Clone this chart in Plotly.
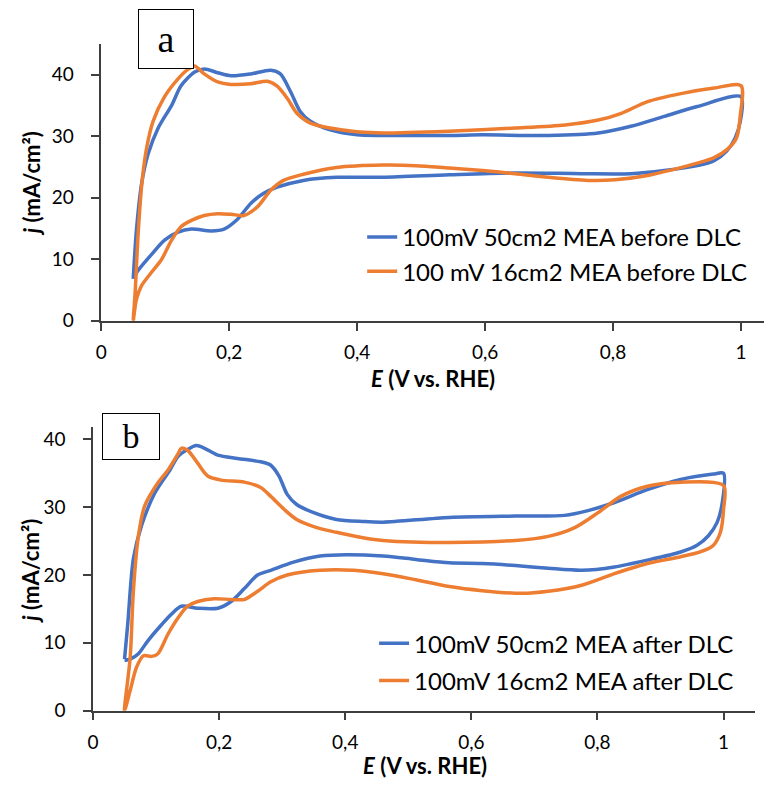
import plotly.graph_objects as go

W, H = 764, 787

# ---- Panel a: before DLC (E in V vs. RHE, j in mA/cm²) ----
a50_E = [0.05, 0.055, 0.063, 0.073, 0.089, 0.11, 0.125, 0.146, 0.161, 0.182, 0.203, 0.234, 0.265, 0.28,
         0.296, 0.311, 0.327, 0.358, 0.4, 0.44, 0.544, 0.596, 0.699, 0.777, 0.828, 0.88, 0.932, 1.0,
         0.999, 0.991, 0.978, 0.958, 0.932, 0.88, 0.828, 0.751, 0.647, 0.544, 0.44, 0.368, 0.316, 0.275,
         0.254, 0.234, 0.213, 0.192, 0.172, 0.141, 0.12, 0.099, 0.078, 0.057, 0.05]
a50_j = [6.8, 14.7, 22.2, 27.0, 31.3, 35.0, 38.2, 40.4, 40.9, 40.3, 39.8, 40.1, 40.7, 40.1,
         37.2, 34.0, 32.4, 31.0, 30.2, 30.1, 30.1, 30.2, 30.1, 30.5, 31.6, 33.2, 34.8, 36.4,
         32.4, 29.7, 27.6, 26.0, 25.2, 24.4, 23.9, 23.9, 24.0, 23.7, 23.3, 23.3, 22.8, 21.7,
         20.7, 19.1, 16.5, 14.9, 14.6, 14.9, 14.4, 13.1, 10.7, 8.1, 7.0]

a16_E = [0.05, 0.0527, 0.058, 0.064, 0.071, 0.081, 0.099, 0.12, 0.135, 0.146, 0.161, 0.182, 0.203, 0.234,
         0.26, 0.275, 0.291, 0.306, 0.327, 0.358, 0.399, 0.44, 0.544, 0.647, 0.725, 0.777, 0.813, 0.854,
         0.906, 0.958, 1.0,
         0.999, 0.993, 0.978, 0.958, 0.932, 0.895, 0.854, 0.803, 0.761, 0.699, 0.647, 0.596, 0.544,
         0.492, 0.44, 0.368, 0.316, 0.285, 0.265, 0.244, 0.223, 0.203, 0.182, 0.161, 0.141, 0.125,
         0.11, 0.094, 0.078, 0.063, 0.055, 0.05]
a16_j = [0.0, 4.05, 14.7, 22.8, 28.1, 32.4, 36.4, 39.3, 40.8, 41.4, 40.1, 38.8, 38.4, 38.5,
         38.9, 38.1, 36.1, 33.7, 32.1, 31.3, 30.7, 30.5, 30.8, 31.3, 31.8, 32.6, 33.7, 35.6,
         36.9, 37.8, 38.2,
         33.4, 29.7, 27.8, 26.5, 25.6, 24.6, 23.6, 22.9, 22.8, 23.3, 23.9, 24.4, 24.8,
         25.2, 25.3, 24.9, 23.8, 22.8, 21.2, 18.5, 17.1, 17.3, 17.4, 17.1, 16.3, 15.3,
         13.1, 9.9, 7.8, 5.7, 3.5, 0.0]

# ---- Panel b: after DLC ----
b50_E = [0.05, 0.055, 0.064, 0.077, 0.098, 0.122, 0.135, 0.148, 0.164, 0.177, 0.198, 0.229, 0.266, 0.282,
         0.295, 0.308, 0.323, 0.35, 0.386, 0.428, 0.46, 0.565, 0.67, 0.748, 0.785, 0.827, 0.879, 0.932,
         0.984, 1.0,
         0.998, 0.99, 0.976, 0.958, 0.932, 0.879, 0.827, 0.775, 0.722, 0.67, 0.617, 0.565, 0.512, 0.46,
         0.402, 0.36, 0.318, 0.282, 0.261, 0.24, 0.219, 0.198, 0.166, 0.14, 0.124, 0.109, 0.087, 0.072,
         0.059, 0.05]
b50_j = [7.6, 12.7, 22.4, 27.3, 32.1, 35.5, 37.5, 38.4, 39.1, 38.7, 37.7, 37.2, 36.7, 36.2,
         34.6, 31.9, 30.4, 29.2, 28.2, 27.9, 27.8, 28.5, 28.7, 28.8, 29.5, 30.7, 32.6, 34.1,
         34.9, 35.0,
         30.7, 27.8, 25.8, 24.4, 23.4, 22.2, 21.2, 20.7, 21.0, 21.4, 21.7, 21.8, 22.3, 22.8,
         23.0, 22.8, 21.9, 20.7, 20.0, 18.0, 16.1, 15.1, 15.1, 15.4, 14.2, 12.7, 10.3, 8.4,
         7.6, 7.4]

b16_E = [0.05, 0.059, 0.064, 0.072, 0.082, 0.103, 0.119, 0.135, 0.14, 0.15, 0.166, 0.182, 0.203, 0.24,
         0.266, 0.282, 0.303, 0.323, 0.355, 0.386, 0.428, 0.46, 0.565, 0.67, 0.722, 0.764, 0.801, 0.837,
         0.879, 0.932, 1.0,
         1.0, 0.995, 0.984, 0.963, 0.932, 0.879, 0.827, 0.775, 0.722, 0.68, 0.617, 0.565, 0.512, 0.46,
         0.413, 0.36, 0.308, 0.282, 0.261, 0.24, 0.219, 0.192, 0.166, 0.15, 0.135, 0.119, 0.103, 0.093,
         0.08, 0.069, 0.059, 0.05]
b16_j = [0.0, 7.9, 17.6, 25.8, 30.2, 33.6, 35.5, 37.9, 38.7, 38.4, 36.5, 34.6, 34.0, 33.7,
         32.9, 31.6, 29.7, 28.2, 27.0, 26.3, 25.5, 25.1, 24.8, 25.1, 25.7, 27.0, 29.2, 31.6,
         33.1, 33.7, 33.2,
         29.7, 26.3, 24.4, 23.4, 22.7, 21.7, 20.2, 18.5, 17.6, 17.3, 17.7, 18.3, 19.3, 20.2,
         20.7, 20.7, 20.0, 19.0, 17.6, 16.4, 16.4, 16.5, 16.1, 15.4, 13.7, 11.3, 8.4, 8.0,
         8.1, 6.4, 3.0, 0.0]

names_a = ["100mV 50cm2 MEA before DLC", "100 mV 16cm2 MEA before DLC"]
names_b = ["100mV 50cm2 MEA after DLC", "100mV 16cm2 MEA after DLC"]

x_tickvals = [0, 0.2, 0.4, 0.6, 0.8, 1.0]
x_ticktext = ["0", "0,2", "0,4", "0,6", "0,8", "1"]
y_tickvals = [0, 10, 20, 30, 40]
y_ticktext = ["0", "10", "20", "30", "40"]

BLUE = "#4472C4"
ORANGE = "#ED7D31"
FONT = "Lato"
AXIS_COLOR = "#3f3f3f"


def fx(p):
    return p / W


def fy(p):
    return 1 - p / H


fig = go.Figure()

line_kw = dict(mode="lines", line_shape="spline")
fig.add_trace(go.Scatter(x=a50_E, y=a50_j, name=names_a[0], line=dict(color=BLUE, width=3.5, smoothing=0.8),
                         xaxis="x", yaxis="y", legend="legend", legendgroup="a1", **line_kw))
fig.add_trace(go.Scatter(x=a16_E, y=a16_j, name=names_a[1], line=dict(color=ORANGE, width=3.5, smoothing=0.8),
                         xaxis="x", yaxis="y", legend="legend", legendgroup="a2", **line_kw))
fig.add_trace(go.Scatter(x=b50_E, y=b50_j, name=names_b[0], line=dict(color=BLUE, width=3.5, smoothing=0.8),
                         xaxis="x2", yaxis="y2", legend="legend2", legendgroup="b1", **line_kw))
fig.add_trace(go.Scatter(x=b16_E, y=b16_j, name=names_b[1], line=dict(color=ORANGE, width=3.5, smoothing=0.8),
                         xaxis="x2", yaxis="y2", legend="legend2", legendgroup="b2", **line_kw))

axis_common = dict(showgrid=False, zeroline=False, showline=True, linecolor=AXIS_COLOR, linewidth=1.5,
                   ticks="outside", ticklen=8, tickwidth=1.5, tickcolor=AXIS_COLOR,
                   tickfont=dict(family=FONT, size=19, color="#000000"), fixedrange=True)

legend_font = dict(family=FONT, size=24, color="#000000")

fig.update_layout(
    width=W, height=H,
    margin=dict(l=0, r=0, t=0, b=0),
    paper_bgcolor="white", plot_bgcolor="white",
    xaxis=dict(domain=[fx(96), 1.0], range=[0, 1.036], anchor="y",
               tickvals=x_tickvals, ticktext=x_ticktext, ticklabelstandoff=6, **axis_common),
    yaxis=dict(domain=[fy(325.3), fy(45)], range=[0, 44.9], anchor="x",
               tickvals=y_tickvals, ticktext=y_ticktext, ticklabelstandoff=14, **axis_common),
    xaxis2=dict(domain=[fx(87.7), fx(755)], range=[0, 1.05], anchor="y2",
                tickvals=x_tickvals, ticktext=x_ticktext, ticklabelstandoff=6, **axis_common),
    yaxis2=dict(domain=[fy(720.7), fy(433.3)], range=[0, 41.8], anchor="x2",
                tickvals=y_tickvals, ticktext=y_ticktext, ticklabelstandoff=14, **axis_common),
    legend=dict(x=fx(359), y=fy(218), font=legend_font, bgcolor="rgba(0,0,0,0)", borderwidth=0,
                tracegroupgap=0, xanchor="left", yanchor="top"),
    legend2=dict(x=fx(371), y=fy(630), font=legend_font, bgcolor="rgba(0,0,0,0)", borderwidth=0,
                 tracegroupgap=3, xanchor="left", yanchor="top"),
)

title_font = dict(family=FONT, size=22, color="#000000")
annotations = [
    dict(text="<b><i>E</i> (V vs. RHE)</b>", x=fx(430), y=fy(384), xref="paper", yref="paper",
         showarrow=False, font=title_font, xanchor="center", yanchor="middle"),
    dict(text="<b><i>j</i> (mA/cm²)</b>", x=fx(26), y=fy(186), xref="paper", yref="paper",
         showarrow=False, font=title_font, textangle=-90, xanchor="center", yanchor="middle"),
    dict(text="<b><i>E</i> (V vs. RHE)</b>", x=fx(422), y=fy(776), xref="paper", yref="paper",
         showarrow=False, font=title_font, xanchor="center", yanchor="middle"),
    dict(text="<b><i>j</i> (mA/cm²)</b>", x=fx(25), y=fy(579), xref="paper", yref="paper",
         showarrow=False, font=title_font, textangle=-90, xanchor="center", yanchor="middle"),
    dict(text="a", x=fx(160.8), y=fy(40), xref="paper", yref="paper", showarrow=False,
         font=dict(family="Liberation Serif", size=38, color="#000000"), width=54, height=58,
         bgcolor="white", bordercolor="#000000", borderwidth=1, borderpad=0,
         xanchor="center", yanchor="middle"),
    dict(text="b", x=fx(126.2), y=fy(442.4), xref="paper", yref="paper", showarrow=False,
         font=dict(family="Liberation Serif", size=34, color="#000000"), width=56, height=45,
         bgcolor="white", bordercolor="#000000", borderwidth=1, borderpad=0,
         xanchor="center", yanchor="middle"),
]
fig.update_layout(annotations=annotations)

fig.write_html("out.html")
